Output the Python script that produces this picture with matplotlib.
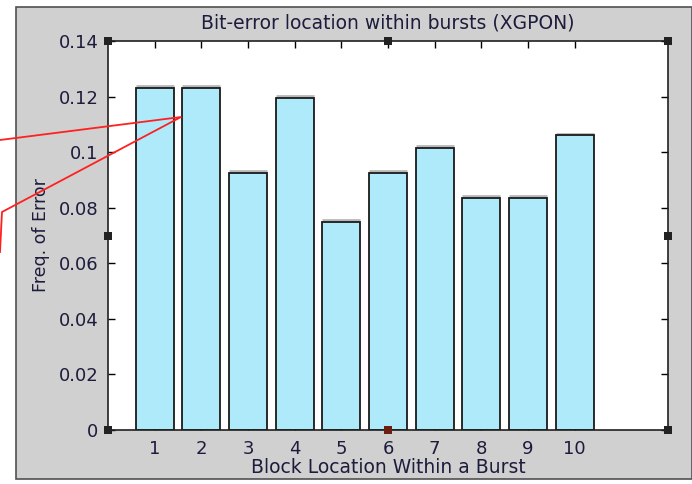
import matplotlib.pyplot as plt
import matplotlib.patches as mpatches
import matplotlib.transforms as mtransforms
from matplotlib.lines import Line2D
import numpy as np

plt.rcParams['font.family'] = ['DejaVu Sans']

# data
blocks = [1, 2, 3, 4, 5, 6, 7, 8, 9, 10]
freq = [0.123, 0.123, 0.0925, 0.1195, 0.075, 0.0925, 0.1015, 0.0835, 0.0835, 0.106]
yticks = [0, 0.02, 0.04, 0.06, 0.08, 0.1, 0.12, 0.14]
ytick_labels = ['0', '0.02', '0.04', '0.06', '0.08', '0.1', '0.12', '0.14']

W, H = 692, 484
txt = '#1c1c3c'
bar_col = '#aeeafa'
bar_w = 0.82

fig = plt.figure(figsize=(W / 100, H / 100), dpi=100)
fig.patch.set_facecolor('white')

def fx(x):
  return x / W

def fy(y):
  return 1 - y / H

# grey matlab figure panel
panel = mpatches.Rectangle((fx(16), fy(479)), fx(692 - 16), (479 - 7) / H,
                           transform=fig.transFigure, facecolor='#d0d0d0',
                           edgecolor='#505050', linewidth=1.2, zorder=-10)
fig.patches.append(panel)

ax = fig.add_axes([fx(108), fy(430), fx(668 - 108), (430 - 41) / H])
ax.set_zorder(1)
ax.set_facecolor('white')

# faint shadow just above each bar top
shadow = mtransforms.offset_copy(ax.transData, fig=fig, x=0, y=1.8, units='dots')
ax.hlines(freq, np.array(blocks) - bar_w / 2, np.array(blocks) + bar_w / 2,
          colors='#b8b8b8', linewidth=2, transform=shadow, zorder=1)
ax.bar(blocks, freq, width=bar_w, color=bar_col, edgecolor='#1a1a1a', linewidth=1.3, zorder=2)

ax.set_xlim(0, 12)
ax.set_ylim(0, 0.14)
ax.set_xticks(blocks)
ax.set_yticks(yticks)
ax.set_yticklabels(ytick_labels)
ax.tick_params(direction='in', top=True, right=True, length=5, width=1,
               labelsize=13, labelcolor=txt, pad=7)
for s in ax.spines.values():
  s.set_linewidth(1.2)
  s.set_color('#202020')

ax.set_title('Bit-error location within bursts (XGPON)', fontsize=13.5, color=txt, pad=9)
ax.set_xlabel('Block Location Within a Burst', fontsize=13.5, color=txt, labelpad=0)
ax.set_ylabel('Freq. of Error', fontsize=12.5, color=txt, labelpad=6)

# selection handles
handles = [(108, 41), (388, 41), (668, 41), (108, 236), (668, 236),
           (108, 430), (668, 430)]
for hx, hy in handles:
  fig.patches.append(mpatches.Rectangle((fx(hx - 4), fy(hy + 4)), fx(8), 8 / H,
                                        transform=fig.transFigure,
                                        facecolor='#222222', edgecolor='none', zorder=5))
fig.patches.append(mpatches.Rectangle((fx(384), fy(434)), fx(8), 8 / H,
                                      transform=fig.transFigure,
                                      facecolor='#6b1f10', edgecolor='none', zorder=5))

# red annotation lines
red_x = [0, 181, 2, 0]
red_y = [140, 117, 212, 252]
fig.lines.append(Line2D([fx(v) for v in red_x], [fy(v) for v in red_y],
                        transform=fig.transFigure, color='#ff2020', linewidth=1.3, zorder=6))

fig.savefig('out.png', dpi=100)
